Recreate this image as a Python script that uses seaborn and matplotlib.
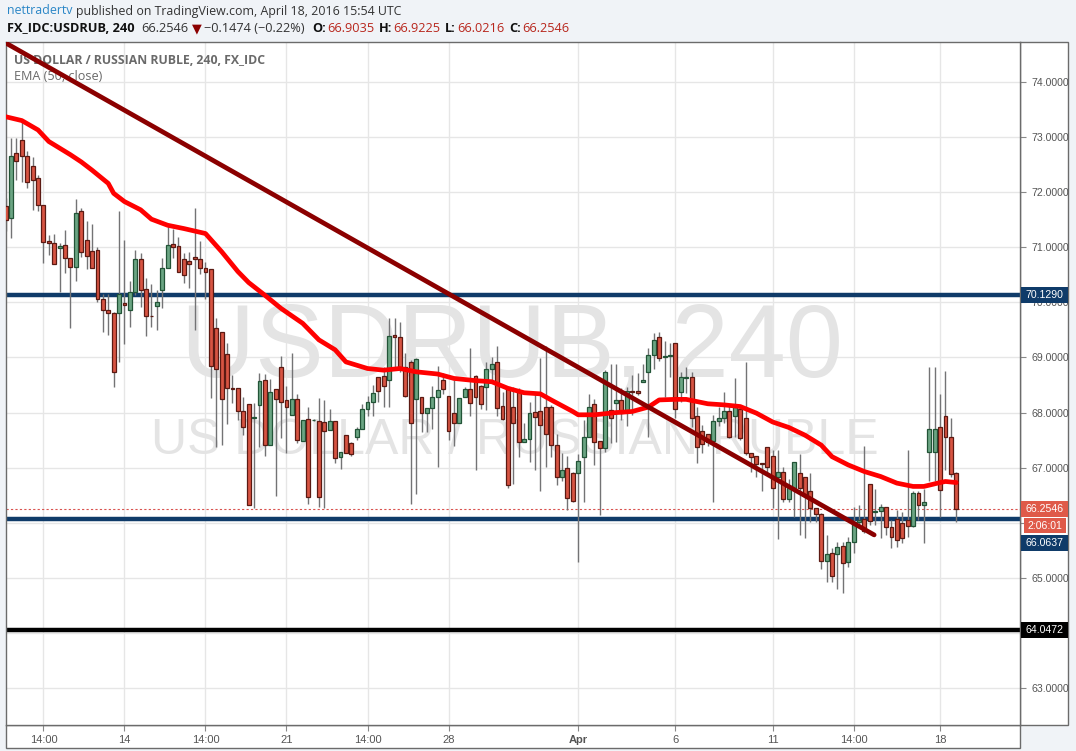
import numpy as np
import pandas as pd
import matplotlib
matplotlib.use("Agg")
import matplotlib.pyplot as plt
from matplotlib.patches import Rectangle
import seaborn as sns

# ---------------- data (4h candles) ----------------
opens = [71.75, 71.53, 72.72, 72.94, 72.65, 72.47, 72.25, 71.76, 71.11, 71.08,
         70.99, 71.05, 70.80, 70.64, 71.66, 71.13, 70.93, 70.96, 70.07, 69.87,
         69.80, 69.80, 69.98, 69.87, 70.19, 70.78, 70.24, 69.76, 69.93, 70.22,
         70.62, 71.06, 71.02, 70.78, 70.76, 70.83, 70.78, 70.62, 70.60, 69.53,
         69.46, 69.06, 68.44, 68.44, 68.03, 68.15, 67.91, 68.13, 68.60, 67.42,
         68.42, 68.82, 68.22, 67.96, 68.24, 67.48, 67.88, 67.86, 67.85, 67.83,
         67.68, 67.84, 67.19, 67.59, 67.44, 67.55, 67.70, 68.06, 68.20, 68.65,
         68.67, 68.59, 69.41, 69.37, 68.83, 68.91, 68.24, 68.29, 68.00, 68.08,
         68.29, 68.60, 68.31, 68.00, 67.81, 68.28, 68.42, 68.67, 68.49, 68.46,
         68.80, 68.91, 68.12, 68.46, 68.10, 68.37, 67.47, 67.52, 68.01, 68.03,
         68.10, 68.10, 67.41, 66.83, 66.99, 66.90, 66.91, 67.20, 67.55, 68.16,
         67.48, 67.35, 68.05, 68.17, 68.23, 68.05, 68.39, 68.39, 68.56, 68.73,
         69.05, 69.37, 69.00, 69.02, 69.26, 68.37, 68.63, 68.64, 67.93, 67.67,
         67.62, 67.49, 67.84, 67.91, 68.02, 67.94, 68.06, 67.91, 67.26, 67.21,
         67.08, 67.37, 67.21, 66.83, 66.93, 66.44, 66.64, 66.91, 66.83, 66.58,
         66.26, 66.16, 65.31, 65.45, 65.43, 65.58, 65.28, 65.66, 66.02, 66.06,
         66.70, 66.19, 66.21, 66.28, 65.92, 66.06, 65.99, 66.05, 65.95, 66.54,
         66.32, 67.29, 67.29, 67.73, 67.93, 67.55, 66.9035]
highs = [71.90, 72.98, 72.98, 73.31, 72.74, 72.64, 72.31, 71.76, 71.22, 71.25,
         71.08, 71.31, 70.80, 71.88, 71.72, 71.48, 71.42, 71.01, 70.15, 70.16,
         69.83, 71.66, 71.13, 70.39, 70.95, 70.89, 70.44, 70.33, 70.22, 70.81,
         71.43, 71.34, 71.18, 70.89, 70.92, 71.71, 71.11, 70.73, 70.60, 69.71,
         69.46, 69.26, 68.68, 68.44, 68.28, 68.15, 68.17, 68.71, 68.70, 68.61,
         68.42, 69.03, 68.49, 69.09, 68.33, 67.87, 68.10, 67.88, 68.26, 68.23,
         68.06, 67.85, 67.29, 67.59, 67.46, 67.74, 68.16, 68.30, 68.50, 68.65,
         68.83, 69.71, 69.71, 69.64, 69.08, 68.96, 68.99, 68.29, 68.08, 68.48,
         68.85, 68.71, 68.31, 68.59, 68.26, 68.46, 69.17, 68.68, 68.50, 68.91,
         69.00, 69.20, 68.38, 68.46, 68.47, 68.44, 67.81, 68.20, 68.36, 68.99,
         69.21, 68.14, 67.62, 67.26, 67.21, 66.93, 67.25, 67.87, 68.34, 68.25,
         67.48, 68.77, 68.89, 68.89, 68.44, 68.47, 68.68, 68.71, 68.89, 69.17,
         69.44, 69.47, 69.30, 69.26, 69.26, 68.74, 68.83, 68.73, 68.11, 67.78,
         67.62, 67.96, 68.11, 68.38, 68.14, 68.62, 68.14, 68.92, 67.26, 67.21,
         67.08, 67.37, 67.33, 67.33, 67.02, 66.79, 67.11, 67.25, 66.84, 66.91,
         66.26, 66.17, 65.78, 65.54, 65.66, 65.66, 65.75, 66.29, 66.33, 67.39,
         66.70, 66.61, 66.34, 66.28, 66.05, 66.23, 66.20, 67.32, 66.57, 66.57,
         66.61, 68.82, 68.82, 68.34, 68.76, 67.90, 66.9225]
lows = [71.30, 71.16, 72.22, 72.19, 72.07, 71.68, 71.65, 70.71, 70.86, 70.70,
        70.19, 70.53, 69.53, 70.38, 70.83, 70.60, 70.62, 70.01, 69.46, 69.41,
        68.47, 68.92, 69.24, 69.56, 70.13, 69.92, 69.39, 69.55, 69.50, 69.89,
        70.62, 70.80, 70.56, 70.35, 70.26, 69.50, 70.52, 70.07, 68.26, 67.37,
        67.42, 67.79, 68.17, 67.87, 67.59, 66.32, 66.26, 67.38, 67.21, 67.42,
        66.49, 67.53, 67.26, 67.96, 67.44, 67.48, 66.34, 67.85, 66.28, 66.26,
        67.68, 67.09, 66.97, 67.27, 67.22, 67.50, 67.70, 67.93, 67.93, 68.20,
        68.11, 68.11, 68.77, 68.74, 68.29, 66.34, 66.52, 67.64, 67.64, 67.71,
        67.02, 68.34, 67.50, 67.40, 67.81, 68.28, 67.93, 66.95, 68.06, 68.05,
        68.56, 67.93, 67.87, 66.63, 66.70, 67.20, 67.47, 67.11, 66.96, 66.57,
        67.02, 67.20, 66.69, 66.75, 66.24, 66.38, 65.28, 66.38, 67.55, 67.04,
        66.14, 67.29, 67.44, 67.46, 67.87, 67.76, 67.96, 68.32, 68.56, 67.55,
        68.79, 68.94, 68.29, 68.65, 67.90, 68.20, 68.35, 67.73, 67.09, 67.27,
        67.39, 66.38, 67.75, 67.81, 67.53, 67.56, 67.50, 67.23, 66.93, 66.83,
        66.57, 66.87, 66.26, 65.70, 66.38, 66.38, 66.10, 65.78, 65.72, 66.02,
        66.02, 65.17, 64.93, 64.93, 64.79, 64.72, 65.20, 65.45, 65.95, 65.81,
        65.96, 65.96, 65.72, 65.78, 65.54, 65.56, 65.64, 65.75, 65.93, 66.05,
        65.63, 66.75, 66.75, 66.11, 66.96, 66.84, 66.0216]
closes = [71.50, 72.66, 72.56, 72.66, 72.18, 72.23, 71.77, 71.10, 71.07, 70.70,
          71.02, 70.81, 70.64, 71.63, 70.91, 70.84, 70.62, 70.07, 69.87, 69.80,
          68.73, 70.16, 69.95, 70.18, 70.78, 70.22, 69.76, 69.75, 70.00, 70.62,
          71.04, 71.01, 70.56, 70.49, 70.69, 70.78, 70.62, 70.55, 68.85, 68.80,
          68.24, 68.44, 68.43, 68.03, 67.73, 66.32, 67.92, 68.57, 67.42, 68.37,
          68.24, 68.20, 68.10, 68.24, 67.50, 67.87, 66.46, 67.87, 66.46, 67.66,
          67.85, 67.17, 67.29, 67.27, 67.25, 67.71, 68.06, 68.20, 68.36, 68.39,
          68.48, 69.39, 69.37, 68.80, 68.31, 67.81, 68.97, 68.00, 68.08, 68.28,
          68.41, 68.42, 67.67, 67.81, 68.26, 68.42, 68.17, 68.28, 68.16, 68.80,
          68.89, 68.08, 67.88, 66.69, 67.82, 67.46, 67.52, 68.00, 67.92, 67.77,
          67.61, 67.41, 66.83, 66.95, 66.45, 66.40, 67.13, 67.55, 68.10, 67.46,
          67.35, 68.73, 67.91, 68.23, 68.00, 68.39, 68.38, 68.35, 68.59, 69.05,
          69.31, 68.99, 69.02, 69.04, 68.06, 68.64, 68.65, 67.91, 67.37, 67.43,
          67.47, 67.84, 67.91, 68.02, 67.55, 68.11, 67.53, 67.26, 67.20, 67.07,
          67.07, 67.02, 66.64, 66.93, 66.43, 66.63, 67.11, 66.63, 66.48, 66.26,
          66.16, 65.31, 65.43, 65.04, 65.56, 65.27, 65.65, 66.02, 66.05, 65.86,
          66.04, 66.21, 66.28, 65.92, 65.74, 65.68, 65.72, 65.95, 66.54, 66.32,
          66.37, 67.71, 67.71, 66.60, 67.55, 66.89, 66.2546]

# EMA(50, close)
ema_idx = [0, 3, 6, 8, 12, 14, 16, 19, 20, 22, 25, 27, 30, 33, 37, 40, 43, 45,
           48, 51, 55, 58, 61, 63, 67, 70, 73, 76, 80, 83, 87, 90, 93, 96, 99,
           101, 105, 106, 109, 113, 116, 119, 121, 124, 126, 130, 133, 136, 139,
           142, 145, 148, 151, 153, 156, 159, 162, 165, 168, 170, 173, 174, 176]
ema_val = [73.37, 73.30, 73.13, 72.92, 72.68, 72.55, 72.40, 72.16, 71.98, 71.83,
           71.68, 71.51, 71.40, 71.34, 71.25, 70.92, 70.56, 70.36, 70.13, 69.89,
           69.62, 69.32, 69.14, 68.92, 68.80, 68.77, 68.80, 68.74, 68.70, 68.62,
           68.58, 68.56, 68.44, 68.36, 68.34, 68.23, 68.02, 67.96, 67.96, 68.00,
           68.02, 68.10, 68.23, 68.24, 68.24, 68.16, 68.14, 68.11, 67.99, 67.83,
           67.73, 67.59, 67.41, 67.20, 67.05, 66.93, 66.84, 66.72, 66.66, 66.66,
           66.73, 66.75, 66.73]

# drawn trend line (bar index, price)
trend_x = [0.35, 160.8]
trend_y = [74.69, 65.78]

# horizontal levels
navy_levels = [70.1290, 66.0637]
black_level = 64.0472
last_price = 66.2546
countdown = "2:06:01"

# axis ticks
tick_pos = [7, 22, 37, 52, 67, 82, 106, 124, 142, 157, 173]
tick_labels = ["14:00", "14", "14:00", "21", "14:00", "28", "Apr", "6", "11", "14:00", "18"]
price_ticks = [63, 64, 65, 66, 67, 68, 69, 70, 71, 72, 73, 74]
hidden_price_labels = [64, 66]   # covered by the level boxes in the reference

# ---------------- figure ----------------
W, H = 1076, 751
sns.set_theme(style="white")
plt.rcParams["font.family"] = ["Liberation Sans", "DejaVu Sans"]

fig = plt.figure(figsize=(W / 100, H / 100), dpi=100, facecolor="#f0f3f7")
L, R, T, B = 6, 1020, 42, 725
ax = fig.add_axes([L / W, 1 - B / H, (R - L) / W, (B - T) / H])
ax.set_facecolor("white")

df = pd.DataFrame({"o": opens, "h": highs, "l": lows, "c": closes})
df["i"] = np.arange(len(df))
up = df["c"] >= df["o"]
body_bottom = np.minimum(df["o"], df["c"])
body_h = np.maximum(np.abs(df["c"] - df["o"]), 0.008)

# wicks
ax.vlines(df["i"], df["l"], df["h"], color="#737375", lw=1.0, zorder=2)
# bodies
ax.bar(df["i"], body_h, bottom=body_bottom, width=0.72,
       color=np.where(up, "#6ba583", "#d75442"),
       edgecolor=np.where(up, "#225437", "#5b1a13"),
       linewidth=0.9, zorder=3)

# levels
for lv in navy_levels:
    ax.axhline(lv, color="#0f3b69", lw=3.2, zorder=1.6)
ax.axhline(black_level, color="#000000", lw=3.2, zorder=1.6)
ax.axhline(last_price, color="#d9534f", lw=0.8, ls=(0, (2, 2)), zorder=1.7)

# EMA and trend line
sns.lineplot(x=ema_idx, y=ema_val, ax=ax, color="#ff0000", linewidth=3.4,
             sort=False, legend=False, zorder=5)
sns.lineplot(x=trend_x, y=trend_y, ax=ax, color="#8b0000", linewidth=3.4,
             sort=False, legend=False, zorder=6)

ax.set_xlim(0.07, 187.8)
ax.set_ylim(62.33, 74.726)
ax.set_xlabel("")
ax.set_ylabel("")

# grid + ticks
ax.set_xticks(tick_pos)
ax.set_xticklabels(tick_labels)
ax.set_yticks(price_ticks)
ax.set_yticklabels(["" if v in hidden_price_labels else f"{v:.4f}" for v in price_ticks])
ax.yaxis.tick_right()
ax.grid(True, color="#e6e6e6", lw=1.0)
ax.set_axisbelow(True)
ax.tick_params(axis="x", direction="out", length=4, width=0.8, color="#888888",
               labelsize=8, labelcolor="#555555", pad=3, bottom=True)
ax.tick_params(axis="y", direction="out", length=4, width=0.8, color="#888888",
               labelsize=7.6, labelcolor="#555555", pad=4, right=True, left=False)
ax.get_xticklabels()[6].set_fontweight("bold")
for s in ax.spines.values():
    s.set_color("#6b6b6b")
    s.set_linewidth(1.0)

# watermark
ax.text(0.499, 0.549, "USDRUB, 240", transform=ax.transAxes, ha="center", va="center",
        fontsize=74, color="#e4e4e4", zorder=0.6, family="Liberation Sans")
ax.text(0.502, 0.416, "US DOLLAR / RUSSIAN RUBLE", transform=ax.transAxes, ha="center",
        va="center", fontsize=36, color="#e4e4e4", zorder=0.6, family="Liberation Sans")

# price-scale and time-scale panels
fig.add_artist(Rectangle((R / W, 1 - B / H), (1068 - R) / W, (B - T) / H,
                         transform=fig.transFigure, facecolor="white",
                         edgecolor="#6b6b6b", lw=1.0, zorder=-1))
fig.add_artist(Rectangle((L / W, 1 - 748 / H), (R - L) / W, (748 - B) / H,
                         transform=fig.transFigure, facecolor="white",
                         edgecolor="#6b6b6b", lw=1.0, zorder=-1))

renderer = fig.canvas.get_renderer()


def price_box(price, label, fc, dy=0, x0=1021, x1=1068, h=16):
    yd = ax.transData.transform((0, price))[1] - dy
    fig.add_artist(Rectangle((x0 / W, (yd - h / 2) / H), (x1 - x0) / W, h / H,
                             transform=fig.transFigure, facecolor=fc,
                             edgecolor="none", zorder=8))
    fig.text((x0 + x1) / 2 / W, yd / H, label, ha="center", va="center",
             color="white", fontsize=7.6, zorder=9)


price_box(navy_levels[0], f"{navy_levels[0]:.4f}", "#0f3b69")
price_box(last_price, f"{last_price:.4f}", "#df5a49")
price_box(last_price, countdown, "#df5a49", dy=17, x0=1024, x1=1066, h=15)
price_box(navy_levels[1], f"{navy_levels[1]:.4f}", "#0f3b69", dy=24)
price_box(black_level, f"{black_level:.4f}", "#000000")


def seq_text(parts, x0, yc, size, target_w, family, host=None):
    def draw(sz):
        made = []
        x = x0
        for txt, color, weight, gap in parts:
            if host is None:
                t = fig.text(x / W, 1 - yc / H, txt, color=color, fontweight=weight,
                             fontsize=sz, va="center", ha="left", family=family)
            else:
                t = host.text(x / W, 1 - yc / H, txt, color=color, fontweight=weight,
                              fontsize=sz, va="center", ha="left", family=family,
                              transform=fig.transFigure, zorder=4)
            bb = t.get_window_extent(renderer)
            x += bb.width + gap
            made.append(t)
        return made, x - x0
    made, w = draw(size)
    for t in made:
        t.remove()
    draw(size * target_w / w)


hdr_font = ["Open Sans", "DejaVu Sans"]
seq_text([("nettradertv", "#2a86c6", "normal", 4),
          ("published on TradingView.com, April 18, 2016 15:54 UTC", "#333333", "normal", 0)],
         7, 11, 10, 396, hdr_font)
red = "#b8261c"
seq_text([("FX_IDC:USDRUB, 240", "#111111", "bold", 7),
          ("66.2546", "#333333", "normal", 3),
          ("\u25BC", "#8b0000", "normal", 3),
          ("\u22120.1474 (\u22120.22%)", "#333333", "normal", 7),
          ("O:", "#111111", "bold", 1), ("66.9035", red, "normal", 5),
          ("H:", "#111111", "bold", 1), ("66.9225", red, "normal", 5),
          ("L:", "#111111", "bold", 1), ("66.0216", red, "normal", 5),
          ("C:", "#111111", "bold", 1), ("66.2546", red, "normal", 0)],
         7, 29, 10, 559, hdr_font)

seq_text([("US DOLLAR / RUSSIAN RUBLE, 240, FX_IDC", "#6a6a6a", "bold", 0)],
         14, 60, 9, 252, hdr_font, host=ax)
seq_text([("EMA (50, close)", "#6a6a6a", "normal", 0)],
         14, 77, 9, 88, hdr_font, host=ax)

fig.savefig("out.png", dpi=100, facecolor=fig.get_facecolor())
